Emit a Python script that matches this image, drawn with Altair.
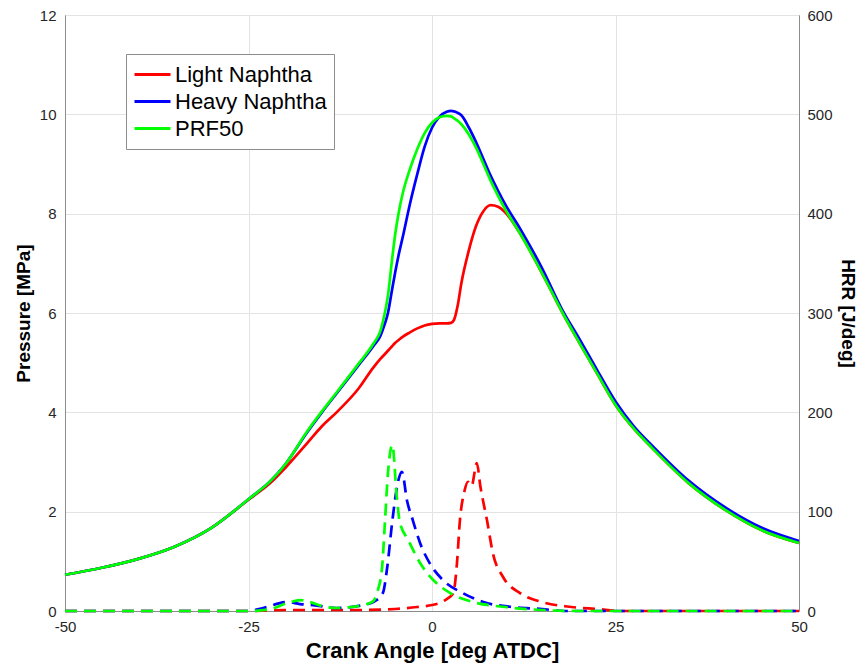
import altair as alt
import pandas as pd

fuels = ["Light Naphtha", "Heavy Naphtha", "PRF50"]
colors = ["#ff0000", "#0000ff", "#00ff00"]

# Pressure [MPa] vs crank angle
p_angle = [-50, -45, -40, -35, -30, -25, -22, -20, -17, -15, -13, -10, -8, -7, -6.5, -6, -5.5, -5, -4.5, -4,
           -3, -2, -1, 0, 1, 2, 2.6, 3, 3.5, 4, 5, 6, 7, 8, 9, 10, 12, 15, 17.8, 20, 22.5, 25, 27.5, 30, 35,
           40, 45, 50]
p_light = [0.73, 0.87, 1.05, 1.3, 1.68, 2.24, 2.58, 2.88, 3.38, 3.72, 4.0, 4.48, 4.9, 5.08, 5.16, 5.24, 5.32,
           5.4, 5.46, 5.52, 5.61, 5.69, 5.75, 5.78, 5.79, 5.79, 5.8, 5.86, 6.15, 6.6, 7.25, 7.75, 8.05, 8.17,
           8.14, 8.02, 7.6, 6.8, 6.0, 5.42, 4.78, 4.15, 3.67, 3.28, 2.57, 2.03, 1.62, 1.37]
p_heavy = [0.73, 0.87, 1.05, 1.3, 1.68, 2.25, 2.62, 2.95, 3.6, 4.0, 4.38, 4.95, 5.33, 5.55, 5.75, 6.0, 6.42,
           6.83, 7.2, 7.52, 8.2, 8.8, 9.35, 9.73, 9.95, 10.05, 10.07, 10.06, 10.03, 9.98, 9.74, 9.44, 9.1,
           8.76, 8.46, 8.18, 7.7, 6.9, 6.05, 5.5, 4.85, 4.22, 3.72, 3.33, 2.62, 2.08, 1.67, 1.41]
p_prf = [0.73, 0.87, 1.05, 1.3, 1.68, 2.25, 2.62, 2.95, 3.62, 4.02, 4.4, 4.98, 5.38, 5.65, 5.95, 6.35, 7.0,
         7.6, 8.05, 8.4, 8.9, 9.3, 9.62, 9.83, 9.94, 9.97, 9.96, 9.92, 9.87, 9.8, 9.6, 9.33, 9.0, 8.66,
         8.36, 8.08, 7.6, 6.8, 6.0, 5.42, 4.78, 4.15, 3.67, 3.28, 2.57, 2.03, 1.62, 1.37]

# Heat release rate [J/deg]
hrr_light_angle = [-50, -25, -20, -10, -5, -2, 0, 1, 2, 2.9, 3.4, 3.8, 4.4, 4.9, 5.4, 6.1, 6.6, 7.5, 8.3, 9.7,
                   12, 15, 19, 22.5, 26, 50]
hrr_light = [0, 0, 1, 1, 2, 4, 6, 8, 12, 18, 48, 91, 120, 130, 126, 149, 125, 91, 58, 34, 18, 9, 4, 2, 0, 0]
hrr_heavy_angle = [-50, -25, -23, -19.7, -18, -16.2, -13, -9.4, -8, -6.7, -6.1, -5.4, -4.6, -4.1, -3.4, -2.6,
                   -1.6, -0.3, 1.5, 4.2, 7, 11, 15, 18, 50]
hrr_heavy = [0, 0, 3, 9, 7, 6, 3, 6, 9, 18, 44, 91, 131, 140, 111, 91, 68, 48, 31, 18, 9, 4, 2, 0, 0]
hrr_prf_angle = [-50, -25, -22, -19.7, -18, -16.6, -15, -13, -11, -9.4, -8, -7.5, -6.8, -6.4, -6, -5.4, -4.8,
                 -4.4, -3.2, -1.6, 0.2, 2.5, 5.6, 10, 15, 20, 50]
hrr_prf = [0, 0, 2, 8, 11, 9, 5, 3, 4, 6, 10, 18, 44, 91, 139, 167, 115, 90, 71, 48, 31, 18, 9, 4, 1, 0, 0]

prows = []
for k, (f, vals) in enumerate(zip(fuels, [p_light, p_heavy, p_prf])):
    for a, v in zip(p_angle, vals):
        prows.append({"fuel": f, "k": k, "angle": a, "pressure": v})
pdf = pd.DataFrame(prows)

hrows = []
for k, (f, angs, vals) in enumerate(zip(fuels, [hrr_light_angle, hrr_heavy_angle, hrr_prf_angle],
                                        [hrr_light, hrr_heavy, hrr_prf])):
    for a, v in zip(angs, vals):
        hrows.append({"fuel": f, "k": k, "angle": a, "hrr": v})
hdf = pd.DataFrame(hrows)

FONT = "Liberation Sans"
color_scale = alt.Scale(domain=fuels, range=colors)

xenc = alt.X("angle:Q", scale=alt.Scale(domain=[-50, 50], nice=False),
             axis=alt.Axis(values=[-50, -25, 0, 25, 50], title="Crank Angle [deg ATDC]",
                           labelExpr="'' + datum.value", grid=True, ticks=False, labelFlush=False,
                           labelPadding=8, titlePadding=6, titleFontSize=22))

pressure = alt.Chart(pdf).mark_line(strokeWidth=2.7, interpolate="monotone").encode(
    x=xenc,
    y=alt.Y("pressure:Q", scale=alt.Scale(domain=[0, 12], nice=False),
            axis=alt.Axis(values=[0, 2, 4, 6, 8, 10, 12], title="Pressure [MPa]", grid=True, ticks=False,
                          labelPadding=9, titlePadding=6)),
    color=alt.Color("fuel:N", scale=color_scale, sort=fuels,
                    legend=alt.Legend(title=None, orient="none", legendX=61, legendY=39,
                                      symbolType="stroke", symbolSize=1296, symbolStrokeWidth=3,
                                      symbolDash=[1, 0], clipHeight=27,
                                      labelFontSize=22, labelFont=FONT, labelColor="#000000",
                                      strokeColor="#8c8c8c", fillColor="#ffffff",
                                      padding=7, rowPadding=0, labelOffset=3)),
    order="k:Q",
)

hrr = alt.Chart(hdf).mark_line(strokeWidth=2.7, strokeDash=[12, 7], interpolate="monotone").encode(
    x=xenc,
    y=alt.Y("hrr:Q", scale=alt.Scale(domain=[0, 600], nice=False),
            axis=alt.Axis(orient="right", values=[0, 100, 200, 300, 400, 500, 600], title="HRR [J/deg]",
                          grid=False, ticks=False, labelPadding=8, titlePadding=5)),
    color=alt.Color("fuel:N", scale=color_scale, sort=fuels, legend=None),
    order="k:Q",
)

chart = alt.layer(pressure, hrr).resolve_scale(y="independent").properties(
    width=734, height=596,
    autosize=alt.AutoSizeParams(type="none"),
    padding={"left": 57, "top": 7, "right": 61, "bottom": 56},
).configure_view(stroke="#8c8c8c", strokeWidth=1).configure_axis(
    labelFont=FONT, labelFontSize=15, labelColor="#262626",
    titleFont=FONT, titleFontSize=19, titleFontWeight="bold", titleColor="#000000",
    gridColor="#e3e3e3", gridWidth=1, domainColor="#8c8c8c",
)

chart.save("out.html", embed_options={"renderer": "svg", "actions": False})
